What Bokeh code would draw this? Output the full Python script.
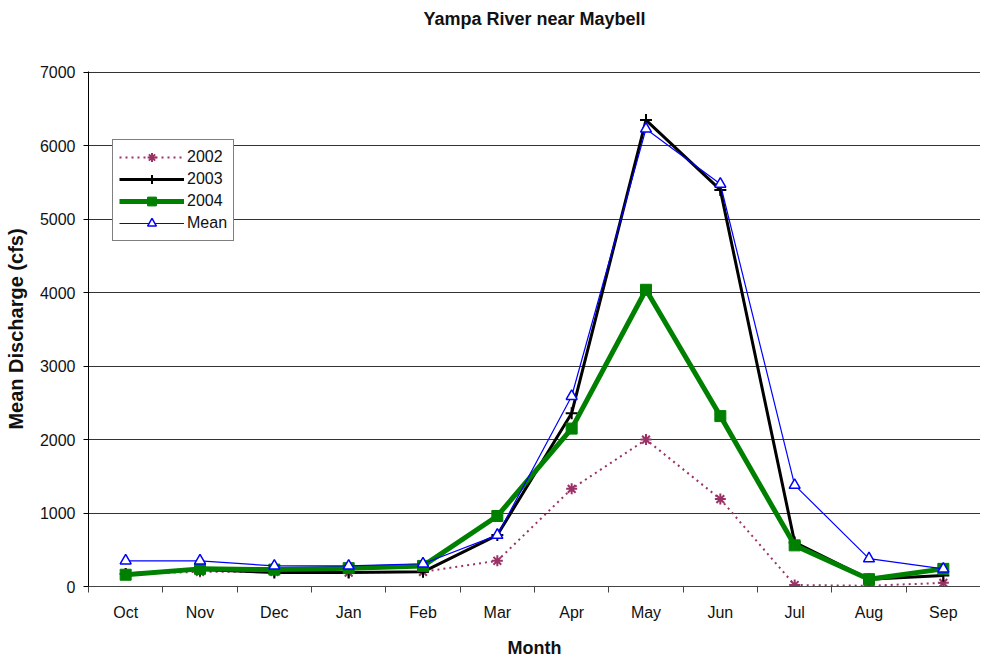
from bokeh.plotting import figure
from bokeh.models import FixedTicker, Range1d, Legend, LegendItem, Title
from bokeh.embed import file_html
from bokeh.resources import INLINE

months = ["Oct", "Nov", "Dec", "Jan", "Feb", "Mar", "Apr", "May", "Jun", "Jul", "Aug", "Sep"]
y2002 = [170, 200, 200, 190, 200, 350, 1330, 2000, 1190, 20, 10, 50]
y2003 = [170, 230, 190, 190, 200, 700, 2360, 6350, 5400, 600, 100, 150]
y2004 = [160, 240, 230, 250, 280, 960, 2150, 4040, 2320, 560, 100, 240]
ymean = [350, 350, 280, 280, 310, 700, 2590, 6230, 5480, 1380, 380, 240]
yticks = [0, 1000, 2000, 3000, 4000, 5000, 6000, 7000]
title_text = "Yampa River near Maybell"

xs = [i + 0.5 for i in range(len(months))]

FONT = "Liberation Sans"

p = figure(width=980, height=660, output_backend="svg", toolbar_location=None,
           title_location=None,
           x_range=Range1d(0, len(months)), y_range=Range1d(0, 7012),
           min_border_left=88, min_border_right=0, min_border_top=71, min_border_bottom=70)
p.outline_line_color = None
p.background_fill_color = "white"
p.border_fill_color = "white"

spacer = Title(text=" ", text_font_size="32px", standoff=0)
p.add_layout(spacer, "above")
title = Title(text=title_text, align="center", offset=19, text_font=FONT,
              text_font_size="18px", text_font_style="bold", text_color="#111111")
p.add_layout(title, "above")

# x axis: labels at centers, ticks at boundaries
p.xaxis.ticker = FixedTicker(ticks=xs, minor_ticks=list(range(len(months) + 1)))
p.xaxis.major_label_overrides = {x: m for x, m in zip(xs, months)}
p.xaxis.major_tick_out = 0
p.xaxis.major_tick_in = 0
p.xaxis.minor_tick_out = 6
p.xaxis.minor_tick_in = 0
p.xaxis.minor_tick_line_color = "#444444"
p.xaxis.axis_line_color = "#444444"
p.xaxis.major_label_text_font = FONT
p.xaxis.major_label_text_font_size = "16px"
p.xaxis.major_label_text_color = "#111111"
p.xaxis.major_label_standoff = 11
p.xaxis.axis_label = "Month"
p.xaxis.axis_label_text_font = FONT
p.xaxis.axis_label_text_font_size = "18px"
p.xaxis.axis_label_text_font_style = "bold"
p.xaxis.axis_label_text_color = "#111111"
p.xaxis.axis_label_standoff = 14

p.yaxis.ticker = FixedTicker(ticks=yticks, minor_ticks=[])
p.yaxis.major_tick_out = 5
p.yaxis.major_tick_in = 0
p.yaxis.axis_line_color = "black"
p.yaxis.major_label_text_font = FONT
p.yaxis.major_label_text_font_size = "16px"
p.yaxis.major_label_text_color = "#111111"
p.yaxis.major_label_standoff = 8
p.yaxis.axis_label = "Mean Discharge (cfs)"
p.yaxis.axis_label_text_font = FONT
p.yaxis.axis_label_text_font_size = "20px"
p.yaxis.axis_label_text_font_style = "bold"
p.yaxis.axis_label_text_color = "#111111"
p.yaxis.axis_label_standoff = 10

p.xgrid.grid_line_color = None
p.ygrid.ticker = FixedTicker(ticks=yticks[1:])
p.ygrid.grid_line_color = "#333333"
p.ygrid.grid_line_width = 1

c02 = "#993366"
l02 = p.line(xs, y2002, line_color=c02, line_width=2, line_dash="2 4")
m02 = p.scatter(xs, y2002, marker="asterisk", size=11, line_color=c02, line_width=2)
l03 = p.line(xs, y2003, line_color="black", line_width=3)
m03 = p.scatter(xs, y2003, marker="cross", size=12, line_color="black", line_width=2)
l04 = p.line(xs, y2004, line_color="#008000", line_width=5)
m04 = p.scatter(xs, y2004, marker="square", size=11, line_color="#008000", fill_color="#008000")
lm = p.line(xs, ymean, line_color="#0000ff", line_width=1.2)
mm = p.scatter(xs, ymean, marker="triangle", size=11, line_color="#0000ff", fill_color="white", line_width=1.5)

legend = Legend(items=[
    LegendItem(label="2002", renderers=[l02, m02]),
    LegendItem(label="2003", renderers=[l03, m03]),
    LegendItem(label="2004", renderers=[l04, m04]),
    LegendItem(label="Mean", renderers=[lm, mm]),
], location=(24, 345))
legend.border_line_color = "black"
legend.border_line_width = 1
legend.background_fill_color = "white"
legend.background_fill_alpha = 1
legend.label_text_font = FONT
legend.label_text_font_size = "16px"
legend.label_text_color = "#111111"
legend.glyph_width = 65
legend.glyph_height = 22
legend.label_height = 22
legend.spacing = 0
legend.padding = 6
legend.margin = 0
legend.label_standoff = 3
p.add_layout(legend, "center")

open("out.html", "w").write(file_html(p, INLINE))
